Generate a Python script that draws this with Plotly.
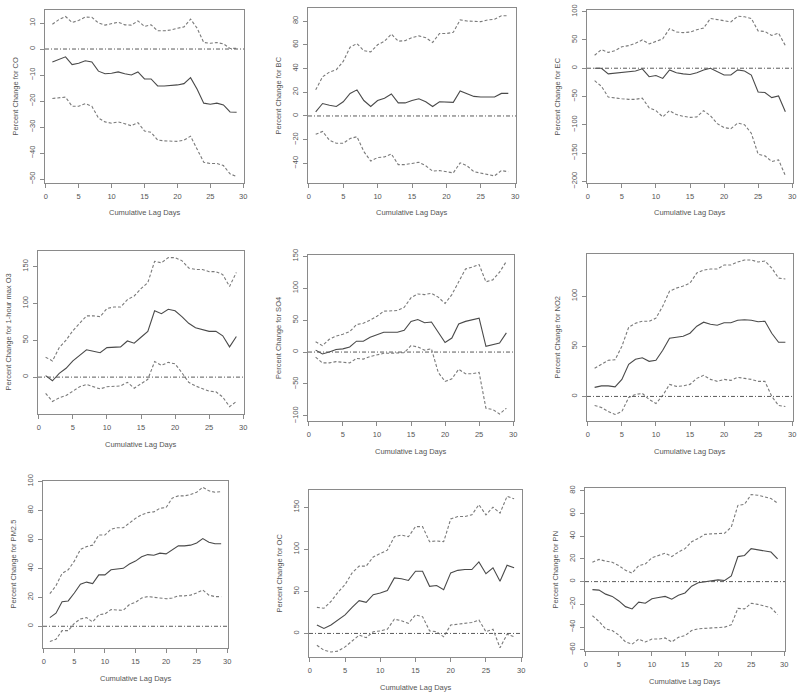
import plotly.graph_objects as go

days = list(range(1, 30))

pollutants = ["CO", "BC", "EC", "1-hour max O3", "SO4", "NO2", "PM2.5", "OC", "PN"]

co_est = [-5, -4, -3, -6, -5.5, -4.5, -5, -8.5, -9.5, -9.3, -8.8, -9.5, -10, -8.8, -11.5, -11.5, -14.2, -14.2, -14, -13.8, -13.3, -11, -15.5, -20.8, -21.2, -20.8, -21.5, -24.2, -24.3]
co_hi = [9.5, 11.3, 12.5, 10.2, 11, 12.3, 12.2, 10, 9.2, 9.7, 10.3, 9.3, 9.2, 10.8, 8.7, 9.3, 7, 7, 7.3, 8, 8.5, 11.5, 8, 2.5, 2.2, 2.5, 2, 0.2, 0.3]
co_lo = [-19, -18.7, -18.5, -22, -22, -21, -22, -26.5, -28, -28.5, -28, -28.7, -29.5, -28.3, -31.5, -32, -35, -35.3, -35.3, -35.5, -35, -33.5, -38.5, -43.5, -44, -44, -44.8, -48, -49]

bc_est = [3.5, 10.5, 9, 8, 12, 19, 22, 13, 8, 13, 15, 18.5, 11, 11, 13, 14.5, 12, 8, 12, 11.5, 11.5, 21, 19, 16.5, 16, 16, 16, 19, 19]
bc_hi = [22, 33, 37, 39, 46, 58, 61, 55, 54, 60, 63, 69, 63, 63.5, 66, 67.5, 66, 62, 69.5, 69.5, 70.5, 81, 80, 80, 79.5, 81, 81.5, 84.5, 84.5]
bc_lo = [-15.5, -13, -20.5, -23, -23, -19, -17.5, -30, -38, -35, -34.5, -32, -41, -41, -40, -39, -42, -46.5, -46, -47, -48, -39.5, -42, -47, -48, -49.5, -50.5, -46, -47]

ec_est = [0, 0, -10, -9, -7, -6, -5, -1, -15, -13, -18, -3, -8, -10, -11, -8, -3, 0, -6, -12, -12, -3, -5, -12, -42, -43, -52, -49, -77]
ec_hi = [23, 33, 28, 31, 38, 40, 44, 50, 43, 48, 52, 70, 64, 63, 64, 68, 71, 88, 86, 83, 82, 92, 91, 88, 66, 65, 58, 62, 40]
ec_lo = [-22, -32, -51, -53, -54, -55, -55, -53, -70, -75, -86, -75, -82, -85, -87, -86, -75, -84, -98, -105, -107, -97, -100, -115, -152, -155, -165, -162, -190]

o3_est = [2, -5, 5, 12, 22, 30, 37, 35, 33, 40, 41, 41, 49, 46, 54, 62, 90, 86, 92, 90, 82, 73, 67, 65, 62, 62, 56, 41, 55]
o3_hi = [27, 22, 40, 50, 63, 73, 83, 83, 82, 93, 95, 95, 105, 110, 120, 128, 157, 155, 162, 162, 158, 148, 146, 146, 143, 143, 139, 123, 142]
o3_lo = [-22, -33, -28, -25, -19, -13, -10, -13, -16, -13, -12, -12, -7, -15, -9, -3, 21, 16, 20, 18, 6, -7, -12, -16, -19, -20, -27, -40, -33]

so4_est = [3, -3, 0, 4, 5, 8, 17, 17, 23, 27, 31, 31, 31, 34, 48, 51, 46, 47, 30, 15, 22, 44, 48, 50, 53, 9, 11, 14, 30]
so4_hi = [16, 10, 20, 25, 28, 32, 43, 45, 50, 56, 64, 64, 65, 70, 85, 91, 90, 92, 86, 76, 90, 110, 130, 133, 137, 110, 113, 125, 142]
so4_lo = [-8, -17, -17, -15, -16, -17, -10, -11, -7, -4, -2, -2, -2, -1, 10, 8, 3, 5, -32, -46, -42, -27, -34, -34, -32, -88, -90, -97, -88]

no2_est = [9, 10.5, 10.5, 9.5, 17, 32, 37, 38.5, 35, 36, 46, 58, 59, 60, 63, 70, 74, 72, 71, 73.5, 73.5, 76, 76.5, 76, 74.5, 75, 63, 54, 54]
no2_hi = [28, 32, 36, 36.5, 50, 69, 73, 75, 75, 78, 90, 105, 108, 110, 113, 123, 126, 127, 127, 131, 131, 134, 136, 136, 134, 135, 128, 118, 117]
no2_lo = [-9, -11, -15, -18, -15, -1, 2, 3, -3, -7, 1, 12, 10, 10.5, 12, 18, 21, 17, 15, 17, 16, 19, 18, 17, 15, 15, 0, -9, -10]

pm_est = [6, 9, 17, 17.5, 23, 29, 30.5, 29.5, 35.5, 35.5, 39, 39.5, 40, 43, 45, 48, 49.5, 49, 50.5, 50, 53, 55.5, 55.5, 56, 57.5, 60.5, 58, 57, 57]
pm_hi = [22.5, 28, 36.5, 39, 45, 53, 55, 56, 63, 63, 67, 68, 68, 71.5, 74.5, 77, 78.5, 79, 81.5, 82, 88.5, 90, 90, 91, 92.5, 96, 93.5, 92.5, 93]
pm_lo = [-10.5, -9, -3, -3, 2, 5, 6, 3, 8, 8.5, 11.5, 11.5, 11, 15, 16.5, 19.5, 20.5, 20, 19.5, 19, 19.5, 21, 21, 21.5, 23, 25, 21.5, 20.5, 20.5]

oc_est = [10, 6, 10, 16, 22, 31, 39, 37, 46, 48, 51, 66, 65, 63, 74, 74, 56, 57, 52, 72, 75, 76, 76, 85, 71, 78, 62, 81, 78]
oc_hi = [31, 30, 38, 49, 58, 72, 80, 80, 91, 95, 99, 115, 117, 115, 127, 127, 109, 110, 109, 136, 139, 139, 141, 153, 141, 150, 143, 163, 160]
oc_lo = [-14, -20, -22, -21, -16, -9, -2, -5, 2, 3, 5, 17, 15, 12, 22, 20, 3, 2, -4, 10, 11, 12, 13, 16, 2, 5, -17, -1, -4]

pn_est = [-7, -7.5, -11, -13, -17, -22, -24, -18, -19, -15, -14, -13, -15.5, -12, -10, -4, -1, 0, 1, 1.5, 1, 5, 22, 23, 29, 28, 27, 26, 20]
pn_hi = [17, 19.5, 18, 17, 14, 10, 7.5, 14, 15.5, 21, 23, 25, 22, 26, 29, 35, 38, 41.5, 42, 42.5, 42.5, 48, 67, 68, 76.5, 76, 74.5, 73, 69]
pn_lo = [-30, -35, -41.5, -43, -47, -53, -55, -50.5, -53, -50.5, -50.5, -49.5, -53, -49, -47.5, -43, -41.5, -41, -40.5, -40, -40, -38, -23.5, -24, -19, -20, -21.5, -23, -29]

series = [
    (co_est, co_hi, co_lo),
    (bc_est, bc_hi, bc_lo),
    (ec_est, ec_hi, ec_lo),
    (o3_est, o3_hi, o3_lo),
    (so4_est, so4_hi, so4_lo),
    (no2_est, no2_hi, no2_lo),
    (pm_est, pm_hi, pm_lo),
    (oc_est, oc_hi, oc_lo),
    (pn_est, pn_hi, pn_lo),
]

x_ticks = [0, 5, 10, 15, 20, 25, 30]
y_ticks = [
    [-50, -40, -30, -20, -10, 0, 10],
    [-40, -20, 0, 20, 40, 60, 80],
    [-200, -150, -100, -50, 0, 50, 100],
    [0, 50, 100, 150],
    [-100, -50, 0, 50, 100, 150],
    [0, 50, 100],
    [0, 20, 40, 60, 80, 100],
    [0, 50, 100, 150],
    [-60, -40, -20, 0, 20, 40, 60, 80],
]
y_ranges = [
    [-51.5, 15], [-56.5, 91], [-203, 103],
    [-50, 171], [-108, 152], [-24.5, 142],
    [-15, 100.3], [-28, 170.5], [-61, 82.3],
]

# panel boxes in page pixels: left, top, right, bottom
boxes = [
    (45, 10, 244, 183), (308, 8, 516, 183), (587, 10, 793, 183),
    (38, 251, 244, 414), (308, 255, 514, 421), (587, 254, 793, 421),
    (43, 481, 228, 648), (309, 490, 522, 657), (585, 488, 785, 651),
]

W, H = 800, 696
FONT = "Liberation Sans, Arial, sans-serif"
TXT = "#555555"
AX = "#8a8a8a"


def px(xp):
    return xp / W


def py(yp):
    return 1 - yp / H


fig = go.Figure()
annotations = []
shapes = []
layout = {}

for i, (name, (est, hi, lo), yt, yr, box) in enumerate(zip(pollutants, series, y_ticks, y_ranges, boxes)):
    k = "" if i == 0 else str(i + 1)
    xa, ya = "x" + k, "y" + k
    L, T, R, B = box
    for vals, dash, col in ((hi, "3px,2px", "#7a7a7a"), (lo, "3px,2px", "#7a7a7a"), (est, "solid", "#4a4a4a")):
        fig.add_trace(go.Scatter(x=days, y=vals, mode="lines", xaxis=xa, yaxis=ya,
                                 line=dict(color=col, width=1.1, dash=dash),
                                 showlegend=False, hoverinfo="skip"))
    common = dict(showline=True, linecolor=AX, linewidth=1, mirror=True, showgrid=False,
                  zeroline=False, ticks="outside", ticklen=4, tickcolor=AX, tickwidth=1,
                  automargin=False,
                  tickfont=dict(family=FONT, size=7.5, color=TXT))
    layout["xaxis" + k] = dict(common, domain=[px(L), px(R)], range=[-0.12, 30.12],
                               tickvals=x_ticks, anchor=ya, ticklabelstandoff=2)
    layout["yaxis" + k] = dict(common, domain=[py(B), py(T)], range=yr,
                               tickvals=yt, anchor=xa, tickangle=-90, ticklabelstandoff=2)
    shapes.append(dict(type="line", xref=xa + " domain", yref=ya, x0=0, x1=1, y0=0, y1=0,
                       line=dict(color="#5a5a5a", width=1, dash="4px,2px,1px,2px")))
    annotations.append(dict(text="Cumulative Lag Days", xref="paper", yref="paper",
                            x=px((L + R) / 2), y=py(B + 30), showarrow=False,
                            xanchor="center", yanchor="middle",
                            font=dict(family=FONT, size=7.5, color=TXT)))
    annotations.append(dict(text="Percent Change for " + name, xref="paper", yref="paper",
                            x=px(L - 30), y=py((T + B) / 2), showarrow=False,
                            textangle=-90, xanchor="center", yanchor="middle",
                            font=dict(family=FONT, size=7.5, color=TXT)))

fig.update_layout(**layout)
fig.update_layout(width=W, height=H, margin=dict(l=0, r=0, t=0, b=0, autoexpand=False),
                  paper_bgcolor="white", plot_bgcolor="white",
                  annotations=annotations, shapes=shapes, showlegend=False)

# remove the browser's default page margin so the figure fills the window exactly
fig.write_html("out.html",
               config={"displayModeBar": False, "staticPlot": True},
               post_script="document.body.style.margin='0';document.body.style.overflow='hidden';")
